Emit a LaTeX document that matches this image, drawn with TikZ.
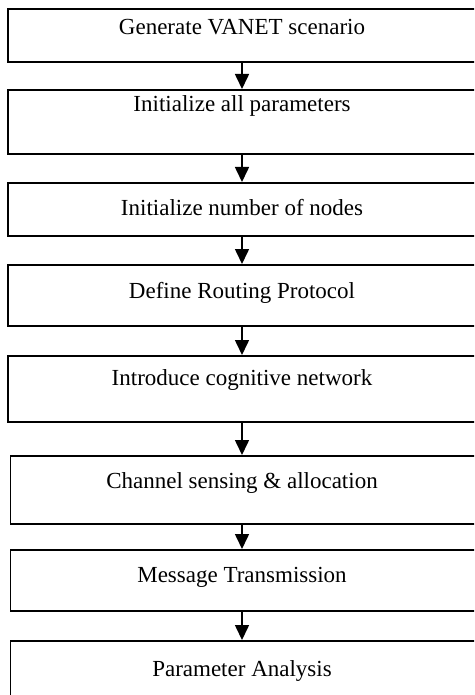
\documentclass[tikz,border=0pt]{standalone}
\usepackage{fontspec}
\setmainfont{Liberation Serif}
\usetikzlibrary{arrows.meta}
\begin{document}
\begin{tikzpicture}[x=1pt,y=-1pt,
  box/.style={draw=black,line width=1.6pt,rectangle,inner sep=0pt},
  txt/.style={anchor=base,inner sep=0pt,font=\fontsize{23}{26}\selectfont},
  arr/.style={line width=1.6pt,-{Triangle[width=14pt,length=15pt]}}]
\useasboundingbox (0,0) rectangle (474,695);
\clip (0,0) rectangle (474,695);
% boxes: corners (left,top) (right,bottom)
\node[box,fit/.style={},minimum width=483pt,minimum height=53pt,anchor=north west] (b1) at (7,8) {};
\node[box,minimum width=483pt,minimum height=64pt,anchor=north west] (b2) at (7,89) {};
\node[box,minimum width=483pt,minimum height=53pt,anchor=north west] (b3) at (7,182) {};
\node[box,minimum width=483pt,minimum height=61pt,anchor=north west] (b4) at (7,264) {};
\node[box,minimum width=483pt,minimum height=66pt,anchor=north west] (b5) at (7,355) {};
\node[box,minimum width=481pt,minimum height=68pt,anchor=north west] (b6) at (9.5,455) {};
\node[box,minimum width=481pt,minimum height=61pt,anchor=north west] (b7) at (9.5,549) {};
\node[box,minimum width=481pt,minimum height=80pt,anchor=north west] (b8) at (9.5,640) {};
% texts
\node[txt] (t1) at (242,35) {Generate VANET scenario};
\node[txt] (t2) at (242,112) {Initialize all parameters};
\node[txt] (t3) at (242,215) {Initialize number of nodes};
\node[txt] (t4) at (242,298) {Define Routing Protocol};
\node[txt] (t5) at (242,385) {Introduce cognitive network};
\node[txt] (t6) at (242,488) {Channel sensing \& allocation};
\node[txt] (t7) at (242,582) {Message Transmission};
\node[txt] (t8) at (242,676) {Parameter Analysis};
% arrows
\draw[arr] (b1.south -| 242,0) -- (b2.north -| 242,0);
\draw[arr] (b2.south -| 242,0) -- (b3.north -| 242,0);
\draw[arr] (b3.south -| 242,0) -- (b4.north -| 242,0);
\draw[arr] (b4.south -| 242,0) -- (b5.north -| 242,0);
\draw[arr] (b5.south -| 242,0) -- (b6.north -| 242,0);
\draw[arr] (b6.south -| 242,0) -- (b7.north -| 242,0);
\draw[arr] (b7.south -| 242,0) -- (b8.north -| 242,0);
\end{tikzpicture}
\end{document}
